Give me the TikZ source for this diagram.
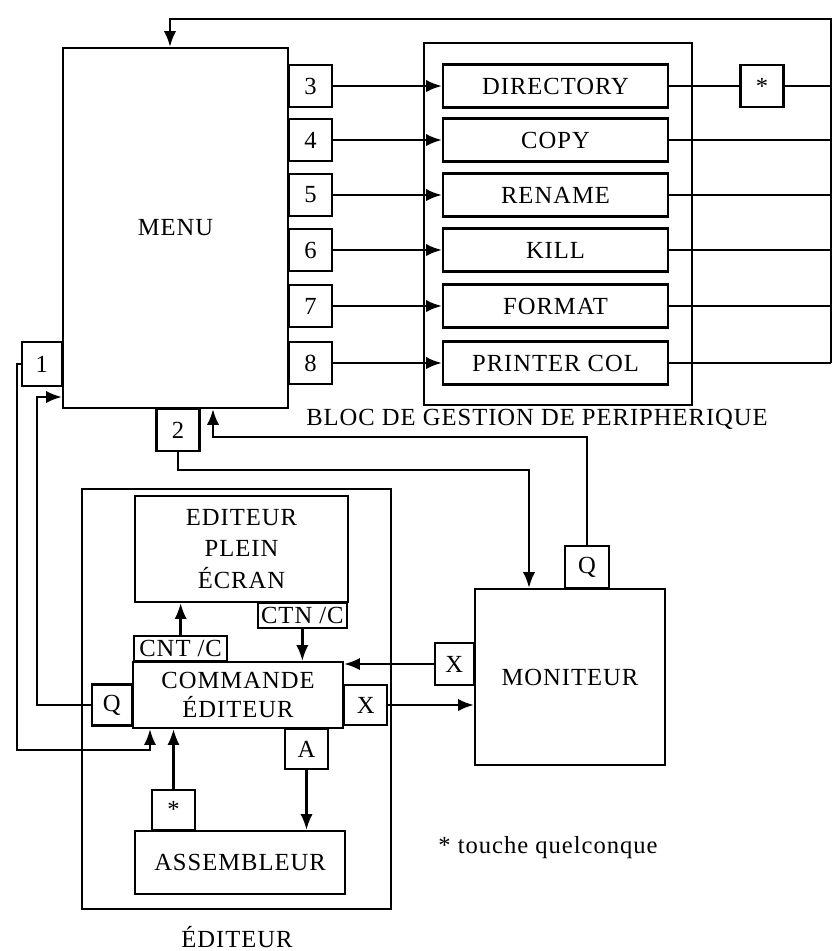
\documentclass[tikz,border=0pt]{standalone}
\usepackage{fontspec}
\setmainfont[LetterSpace=4]{Liberation Serif}
\usetikzlibrary{arrows.meta}

\tikzset{
  blk/.style={draw, line width=1.3pt, inner sep=0pt, align=center},
  numbox/.style={blk, minimum width=0.86cm, minimum height=0.84cm},
  devbox/.style={blk, minimum width=4.5cm, minimum height=0.86cm},
  arr/.style={line width=1.3pt, -{Latex[length=9pt,width=7pt]}},
  wire/.style={line width=1.3pt}
}

\begin{document}
\begin{tikzpicture}[x=0.02cm, y=-0.02cm, font=\fontsize{14}{16}\selectfont]
\useasboundingbox (0,0) rectangle (835,951);

% menu et bloc de gestion
\node[blk, minimum width=4.5cm, minimum height=7.2cm] (menu) at (175.5,228) {MENU};
\node[blk, minimum width=5.36cm, minimum height=7.24cm] (bloc) at (558,224) {};
\node (bloclbl) at (537,419) {BLOC DE GESTION DE PERIPHERIQUE};

\coordinate (rtop) at (831,19);
\node[numbox] (star) at (762,86) {*};

\foreach \n/\y/\t in {3/86/DIRECTORY, 4/140/COPY, 5/195/RENAME, 6/250/KILL, 7/306/FORMAT, 8/363/PRINTER COL}{
  \node[numbox, anchor=west] (k\n) at (288,\y) {\n};
  \node[devbox] (d\n) at (555.5,\y) {\t};
  \draw[arr] (k\n) -- (d\n);
}

\draw[wire] (d3) -- (star);
\draw[wire] (star) -- (star -| rtop);
\foreach \n in {4,...,8}
  \draw[wire] (d\n) -- (d\n -| rtop);
\draw[arr] (d8 -| rtop) -- (rtop) -| (170,0 |- menu.north);

\node[numbox, anchor=east, minimum width=0.8cm, minimum height=0.88cm] (k1) at (63,364) {1};
\node[numbox, anchor=north] (k2) at (178,408) {2};

% editeur
\node[blk, minimum width=6.18cm, minimum height=8.4cm] (edit) at (236.5,699) {};
\node (editlbl) at (237,937) {ÉDITEUR};
\node[blk, minimum width=4.26cm, minimum height=2.12cm, font=\fontsize{14}{18}\selectfont] (ecran) at (241.5,549) {EDITEUR\\PLEIN\\ÉCRAN};
\node[blk, minimum width=4.2cm, minimum height=1.32cm] (cmd) at (238,695) {COMMANDE\\ÉDITEUR};
\node[blk, anchor=south west, minimum width=1.86cm, minimum height=0.5cm] (cnt) at (133,662) {CNT /C};
\node[blk, anchor=north east, minimum width=1.78cm, minimum height=0.5cm] (ctn) at (348,602) {CTN /C};
\node[numbox, anchor=east, minimum width=0.8cm, minimum height=0.82cm] (qe) at (133,705) {Q};
\node[numbox, anchor=west, minimum height=0.8cm] (xe) at (343,705) {X};
\node[numbox, anchor=north, minimum height=0.8cm] (ka) at (306.5,728) {A};
\node[blk, minimum width=4.2cm, minimum height=1.26cm] (asm) at (240,862.5) {ASSEMBLEUR};
\node[numbox, anchor=south, minimum height=0.8cm] (ks) at (173.5,831) {*};

% moniteur
\node[blk, minimum width=3.8cm, minimum height=3.52cm] (mon) at (570,677) {MONITEUR};
\node[numbox, anchor=east, minimum width=0.78cm] (xm) at (475,664) {X};
\node[numbox, anchor=south, minimum width=0.88cm] (qm) at (587,589) {Q};
\node (note) at (548,848) {* touche quelconque};

\draw[arr] (k1.west) -| (17,750) -| (150,0 |- cmd.south);
\draw[arr] (qe.west) -| (37,397) -- (menu.west |- 0,397);
\draw[arr] (k2.south) |- (529,470) -- (529,0 |- mon.north);
\draw[arr] (qm.north) |- (213,437) -- (213,0 |- menu.south);
\draw[arr] (cnt.north) -- (cnt.north |- ecran.south);
\draw[arr] (ctn.south) -- (ctn.south |- cmd.north);
\draw[arr] (ks.north) -- (ks.north |- cmd.south);
\draw[arr] (ka.south) -- (ka.south |- asm.north);
\draw[arr] (xm.west) -- (xm.west -| cmd.east);
\draw[arr] (xe.east) -- (xe.east -| mon.west);
\end{tikzpicture}
\end{document}
